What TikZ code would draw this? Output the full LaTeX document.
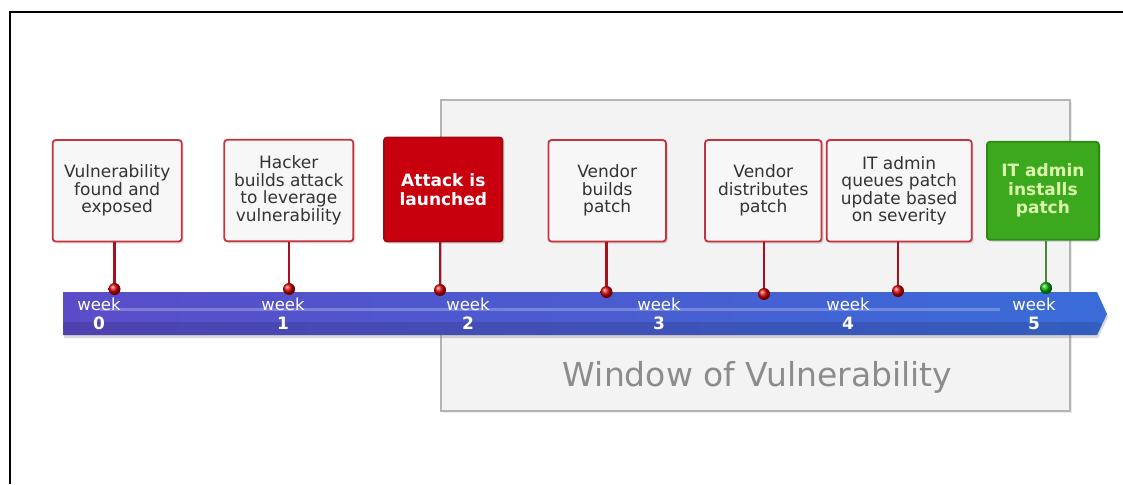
\documentclass[tikz,border=0pt]{standalone}
\usepackage{fontspec}
\setmainfont{DejaVu Sans}
\usetikzlibrary{shadows}
\definecolor{boxborder}{HTML}{C4343F}
\definecolor{boxfill}{HTML}{F7F7F7}
\definecolor{attackfill}{HTML}{C8000E}
\definecolor{attackborder}{HTML}{9C0A12}
\definecolor{greenfill}{HTML}{3CA81E}
\definecolor{greenborder}{HTML}{2C8A14}
\definecolor{greentext}{HTML}{DAF8AC}
\definecolor{stemred}{HTML}{A8101E}
\definecolor{txt}{HTML}{333333}
\definecolor{barleft}{HTML}{5A4CC8}
\definecolor{barright}{HTML}{3A6CD8}
\definecolor{winfill}{HTML}{F3F3F3}
\definecolor{winborder}{HTML}{B4B4B4}
\definecolor{wintext}{HTML}{8C8C8C}
\tikzset{
  eventbox/.style={draw=boxborder, line width=1.8pt, fill=boxfill, rounded corners=3pt,
    align=center, text=txt, inner sep=2pt,
    font=\fontsize{17}{17.5}\selectfont,
    drop shadow={shadow xshift=2pt, shadow yshift=-2pt, opacity=0.25}},
  attackbox/.style={eventbox, draw=attackborder, fill=attackfill, text=white,
    font=\fontsize{17}{18.5}\selectfont\bfseries},
  greenbox/.style={eventbox, draw=greenborder, fill=greenfill, text=greentext,
    font=\fontsize{17}{18.5}\selectfont\bfseries},
  stem/.style={draw=stemred, line width=2.8pt},
  greenstem/.style={draw=greenborder!70!gray, line width=2.8pt},
  pin/.style={circle, minimum size=12pt, inner sep=0pt, ball color=red!85!black},
  greenpin/.style={circle, minimum size=12pt, inner sep=0pt, ball color=green!70!black},
  weeklabel/.style={align=center, text=white, inner sep=0pt,
    font=\fontsize{16.5}{16.5}\selectfont},
}
\begin{document}
\begin{tikzpicture}[x=1pt,y=-1pt]
\useasboundingbox (0,0) rectangle (1123,484);
\fill[white] (0,0) rectangle (1123,484);
% outer frame (left and top)
\draw[line width=2pt, black] (10,484) -- (10,12) -- (1123,12);
% window of vulnerability
\draw[fill=winfill, draw=winborder, line width=1.5pt,
  drop shadow={shadow xshift=2pt, shadow yshift=-2pt, opacity=0.15}]
  (441,100) rectangle (1070,411);
\node[anchor=base, text=wintext, font=\fontsize{33}{33}\selectfont, inner sep=0pt]
  (wov) at (757.5,386) {Window of Vulnerability};
% timeline bar
\path[left color=barleft, right color=barright,
  drop shadow={shadow xshift=1pt, shadow yshift=-3pt, opacity=0.3}]
  (63,292) -- (1097,292) -- (1107,314) -- (1097,335) -- (63,335) -- cycle;
\fill[white, opacity=0.25] (100,307.5) rectangle (1000,311);
\fill[black, opacity=0.12] (63,322) -- (1097,322) -- (1102,324) -- (1097,335) -- (63,335) -- cycle;
% week labels
\foreach \n/\x in {0/99, 1/283, 2/468, 3/659, 4/848, 5/1034} {
  \node[weeklabel] (wk\n) at (\x,304) {week};
  \node[weeklabel, font=\fontsize{17}{17}\selectfont\bfseries] (wn\n) at (\x,323) {\n};
}
% boxes
\node[eventbox, minimum width=129pt, minimum height=101.5pt] (b1) at (117.2,190.8)
  {Vulnerability\\found and\\exposed};
\node[eventbox, minimum width=129pt, minimum height=101.5pt] (b2) at (288.8,190.5)
  {Hacker\\builds attack\\to leverage\\vulnerability};
\node[attackbox, minimum width=118.5pt, minimum height=104pt] (b3) at (443.3,189.5)
  {Attack is\\launched};
\node[eventbox, minimum width=117.5pt, minimum height=101.5pt] (b4) at (607.2,190.8)
  {Vendor\\builds\\patch};
\node[eventbox, minimum width=116.5pt, minimum height=101.5pt] (b5) at (763.3,190.8)
  {Vendor\\distributes\\patch};
\node[eventbox, minimum width=145pt, minimum height=101.5pt] (b6) at (899.2,190.8)
  {IT admin\\queues patch\\update based\\on severity};
\node[greenbox, minimum width=112pt, minimum height=98pt] (b7) at (1042.9,190.8)
  {IT admin\\installs\\patch};
% pins
\coordinate (d1) at (114.5,289);
\coordinate (d2) at (289,289);
\coordinate (d3) at (440,290);
\coordinate (d4) at (606.5,292);
\coordinate (d5) at (764,294);
\coordinate (d6) at (898,291);
\coordinate (d7) at (1046,288);
\foreach \i in {1,...,6} {
  \draw[stem] (b\i.south -| d\i) -- (d\i);
  \node[pin] (p\i) at (d\i) {};
}
\draw[greenstem] (b7.south -| d7) -- (d7);
\node[greenpin] (p7) at (d7) {};
\end{tikzpicture}
\end{document}
